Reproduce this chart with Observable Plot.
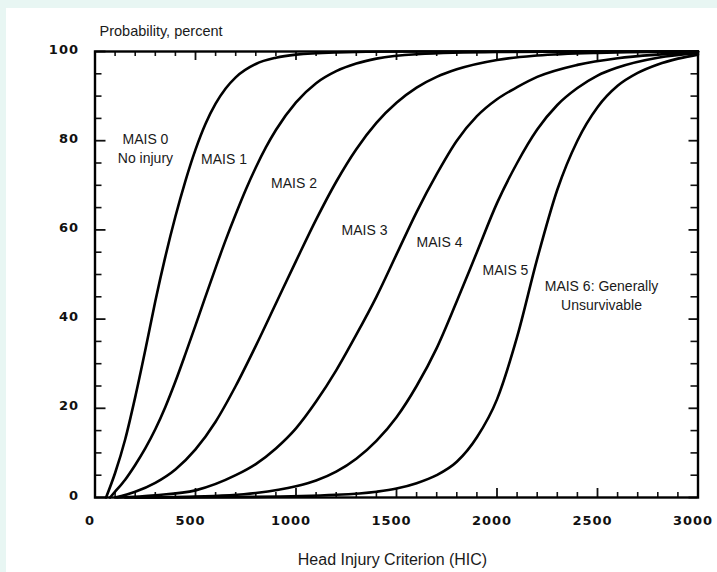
<!DOCTYPE html>
<html><head><meta charset="utf-8">
<script src="https://cdn.jsdelivr.net/npm/d3@7"></script>
<script src="https://cdn.jsdelivr.net/npm/@observablehq/plot@0.6"></script>
<style>
html,body{margin:0;padding:0;background:#e8f6f3;width:717px;height:572px;overflow:hidden}
#chart{position:absolute;left:6px;top:8px;width:711px;height:564px;background:#fff}
#chart svg{display:block}
</style></head><body><div id="chart"></div><script>
// ---- data ----
const hic1 = [55, 100, 150, 200, 250, 300, 350, 400, 450, 500, 550, 600, 650, 700, 800, 900, 1000, 1200, 1500, 3000];
const pct1 = [0, 5.5, 13, 22.5, 33, 44, 54, 63, 71, 78, 83.8, 88.3, 91.7, 94.2, 97.2, 98.6, 99.3, 99.8, 100, 100];

const hic2 = [75, 100, 150, 200, 250, 300, 350, 400, 450, 500, 550, 600, 650, 700, 750, 800, 850, 900, 1000, 1100, 1200, 1300, 1400, 1600, 2000, 2500, 3000];
const pct2 = [0, 1.3, 4, 7.3, 11, 15.3, 20.3, 26, 32.2, 38.6, 45.1, 51.5, 57.7, 63.5, 69, 74, 78.5, 82.4, 88.6, 92.9, 95.6, 97.3, 98.4, 99.4, 99.9, 100, 100];

const hic3 = [100, 200, 300, 400, 500, 600, 700, 800, 900, 1000, 1100, 1200, 1300, 1400, 1500, 1600, 1700, 1800, 2000, 2200, 2500, 3000];
const pct3 = [0, 1.3, 3.3, 6.3, 10.8, 17, 25, 34, 43.5, 53, 62.3, 70.8, 78.1, 84, 88.5, 91.9, 94.3, 96, 98.1, 99.1, 99.7, 100];

const hic4 = [110, 300, 500, 700, 800, 900, 1000, 1100, 1200, 1300, 1400, 1500, 1600, 1700, 1800, 1900, 2000, 2100, 2200, 2400, 2600, 2800, 3000];
const pct4 = [0, 0.5, 1.6, 5, 7.5, 11, 15.5, 21.5, 28.5, 36.5, 45, 54.5, 64, 72.5, 80, 85.5, 89.3, 92, 94.3, 97, 98.5, 99.3, 99.8];

const hic5 = [150, 500, 800, 1000, 1100, 1200, 1300, 1400, 1500, 1600, 1700, 1800, 1900, 2000, 2100, 2200, 2300, 2400, 2500, 2600, 2800, 3000];
const pct5 = [0, 0.2, 1, 2.5, 3.8, 5.8, 8.7, 12.7, 18, 25, 33.5, 44, 55, 66, 75, 82.5, 88, 91.8, 94.6, 96.4, 98.6, 99.6];

const hic6 = [200, 800, 1200, 1400, 1500, 1600, 1700, 1800, 1900, 2000, 2100, 2200, 2300, 2400, 2500, 2600, 2700, 2800, 2900, 3000];
const pct6 = [0, 0.15, 0.6, 1.3, 2, 3.2, 5, 8, 13.5, 22, 36, 53.5, 69, 80, 87.5, 92.3, 95.2, 97.1, 98.4, 99.3];

const labelNames = ["MAIS 0\nNo injury", "MAIS 1", "MAIS 2", "MAIS 3", "MAIS 4", "MAIS 5", "MAIS 6: Generally\nUnsurvivable"];
const labelHic   = [251, 642, 990, 1341, 1714, 2042, 2520];
const labelPct   = [78.5, 76.2, 70.9, 60.3, 57.6, 51.3, 45.6];

const xMajor = [0, 500, 1000, 1500, 2000, 2500, 3000];
const xMinor = d3.range(100, 3000, 100).filter(v => v % 500 !== 0);
const yMajor = [0, 20, 40, 60, 80, 100];
const yMinor = d3.range(5, 100, 5).filter(v => v % 20 !== 0);

const xTitle = "Head Injury Criterion (HIC)";
const yTitle = "Probability, percent";

// ---- build tables ----
const series = [[hic1, pct1], [hic2, pct2], [hic3, pct3], [hic4, pct4], [hic5, pct5], [hic6, pct6]];
const lineData = series.flatMap(([h, p], i) => h.map((v, j) => ({s: i, hic: v, pct: p[j]})));
const labels = labelNames.map((n, i) => ({name: n, hic: labelHic[i], pct: labelPct[i]}));

const W = 711, H = 564;
const mL = 88.5, mR = 19.5, mT = 43, mB = 75;
const fw = W - mL - mR, fh = H - mT - mB;
const tickFont = {fontFamily: "DejaVu Sans", fontWeight: "bold", fontSize: 13, fill: "#111"};
const txtFont = {fontFamily: "Liberation Sans", fill: "#1a1a1a"};

const chart = Plot.plot({
  width: W, height: H,
  marginLeft: mL, marginRight: mR, marginTop: mT, marginBottom: mB,
  x: {domain: [0, 3000], label: null},
  y: {domain: [0, 100], label: null},
  style: {background: "transparent", overflow: "visible"},
  marks: [
    // inward ticks on all four sides
    Plot.tickX(xMinor, {x: d => d, insetTop: fh - 5, stroke: "#111", strokeWidth: 1.6}),
    Plot.tickX(xMinor, {x: d => d, insetBottom: fh - 5, stroke: "#111", strokeWidth: 1.6}),
    Plot.tickX(xMajor, {x: d => d, insetTop: fh - 9, stroke: "#111", strokeWidth: 1.8}),
    Plot.tickX(xMajor, {x: d => d, insetBottom: fh - 9, stroke: "#111", strokeWidth: 1.8}),
    Plot.tickY(yMinor, {y: d => d, insetRight: fw - 7, stroke: "#111", strokeWidth: 1.6}),
    Plot.tickY(yMinor, {y: d => d, insetLeft: fw - 7, stroke: "#111", strokeWidth: 1.6}),
    Plot.tickY(yMajor, {y: d => d, insetRight: fw - 11, stroke: "#111", strokeWidth: 1.8}),
    Plot.tickY(yMajor, {y: d => d, insetLeft: fw - 9, stroke: "#111", strokeWidth: 1.8}),
    Plot.axisX(xMajor, {anchor: "bottom", tickSize: 0, tickPadding: 18, dx: -5, label: null, tickFormat: d => String(d), ...tickFont}),
    Plot.axisY(yMajor, {anchor: "left", tickSize: 0, tickPadding: 16, dy: -2, label: null, tickFormat: d => String(d), ...tickFont}),
    Plot.line(lineData, {x: "hic", y: "pct", z: "s", curve: "monotone-x", stroke: "#000", strokeWidth: 2.6}),
    Plot.frame({stroke: "#000", strokeWidth: 2.4}),
    Plot.text(labels, {x: "hic", y: "pct", text: "name", fontSize: 14, lineHeight: 1.4, ...txtFont}),
    Plot.text([yTitle], {text: d => d, frameAnchor: "top-left", textAnchor: "start", dx: 4.5, dy: -26, fontSize: 14.5, ...txtFont}),
    Plot.text([xTitle], {text: d => d, frameAnchor: "bottom", dx: -4, dy: 67, fontSize: 16, ...txtFont})
  ]
});
d3.select(chart).selectAll('g[aria-label="x-axis tick label"], g[aria-label="y-axis tick label"]').attr("letter-spacing", "1px");
document.getElementById("chart").appendChild(chart);
</script></body></html>
